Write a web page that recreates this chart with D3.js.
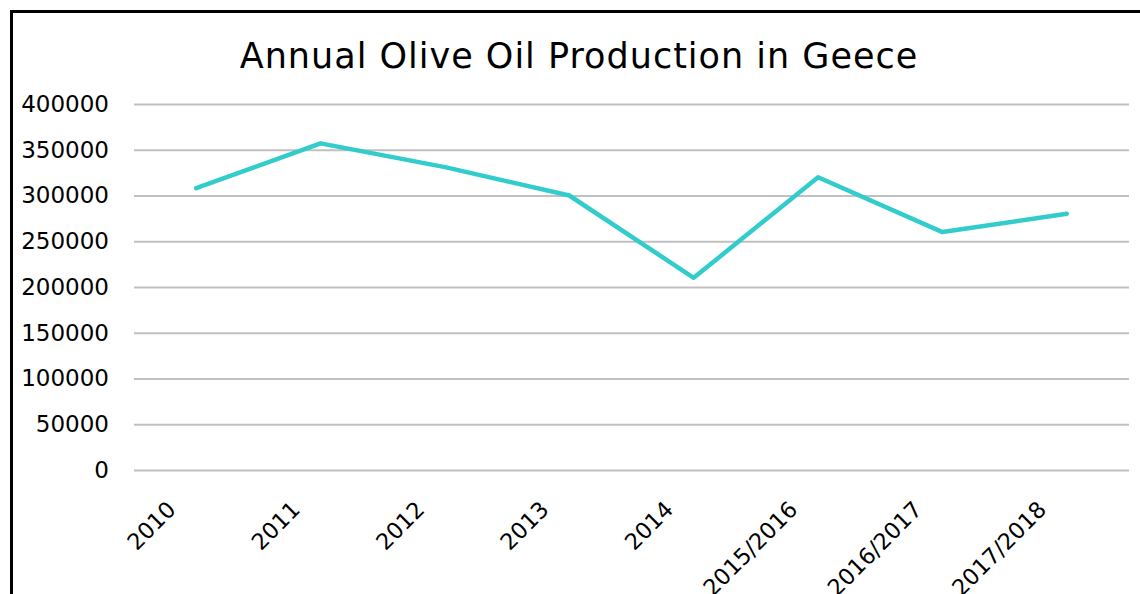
<!DOCTYPE html>
<html>
<head>
<meta charset="utf-8">
<script src="https://cdn.jsdelivr.net/npm/d3@7"></script>
<style>
  body { margin: 0; background: #fff; }
  svg { display: block; }
</style>
</head>
<body>
<svg></svg>
<script>
// chart data
var years = ["2010", "2011", "2012", "2013", "2014", "2015/2016", "2016/2017", "2017/2018"];
var production = [308000, 357000, 331000, 300000, 210000, 320000, 260000, 280000];
var y_ticks = [0, 50000, 100000, 150000, 200000, 250000, 300000, 350000, 400000];
var chart_title = "Annual Olive Oil Production in Geece";

var width = 1140, height = 594;
var plot_left = 134, plot_right = 1129, plot_top = 104, plot_bottom = 470;
var font = "'DejaVu Sans', sans-serif";

var svg = d3.select("svg")
            .attr("width", width)
            .attr("height", height);

// outer frame (only left and top edges show)
svg.append("rect")
   .attr("x", 11.5)
   .attr("y", 11.5)
   .attr("width", width + 20)
   .attr("height", height + 20)
   .attr("fill", "none")
   .attr("stroke", "#000")
   .attr("stroke-width", 3);

svg.append("text")
   .attr("x", 579)
   .attr("y", 68)
   .attr("text-anchor", "middle")
   .attr("font-family", font)
   .attr("font-size", 35)
   .attr("letter-spacing", 1)
   .attr("fill", "#000")
   .text(chart_title);

var x = d3.scaleBand()
          .domain(years)
          .range([plot_left, plot_right]);

var y = d3.scaleLinear()
          .domain([0, 400000])
          .range([plot_bottom, plot_top]);

// gridlines + y labels
var y_axis = d3.axisLeft(y)
               .tickValues(y_ticks)
               .tickSize(-(plot_right - plot_left))
               .tickPadding(25)
               .tickFormat(d3.format("d"));

var y_g = svg.append("g")
             .attr("transform", "translate(" + plot_left + ",0)")
             .call(y_axis);

y_g.select(".domain").remove();
y_g.selectAll(".tick line")
   .attr("stroke", "#c0c0c0")
   .attr("stroke-width", 2);
y_g.selectAll(".tick text")
   .attr("font-family", font)
   .attr("font-size", 23)
   .attr("fill", "#000");

// x labels, rotated
var x_axis = d3.axisBottom(x)
               .tickSize(0)
               .tickPadding(0);

var x_g = svg.append("g")
             .attr("transform", "translate(0," + plot_bottom + ")")
             .call(x_axis);

x_g.select(".domain").remove();
x_g.selectAll(".tick text")
   .attr("font-family", font)
   .attr("font-size", 22.5)
   .attr("fill", "#000")
   .attr("text-anchor", "end")
   .attr("transform", "translate(-31,29) rotate(-45)")
   .attr("dy", "0.75em")
   .attr("y", 0)
   .attr("x", 0);

// the series line
var line = d3.line()
             .x(function(d, i) { return x(years[i]) + x.bandwidth() / 2; })
             .y(function(d) { return y(d); });

svg.append("path")
   .datum(production)
   .attr("d", line)
   .attr("fill", "none")
   .attr("stroke", "#33cccc")
   .attr("stroke-width", 4.5)
   .attr("stroke-linecap", "round")
   .attr("stroke-linejoin", "round");
</script>
</body>
</html>
